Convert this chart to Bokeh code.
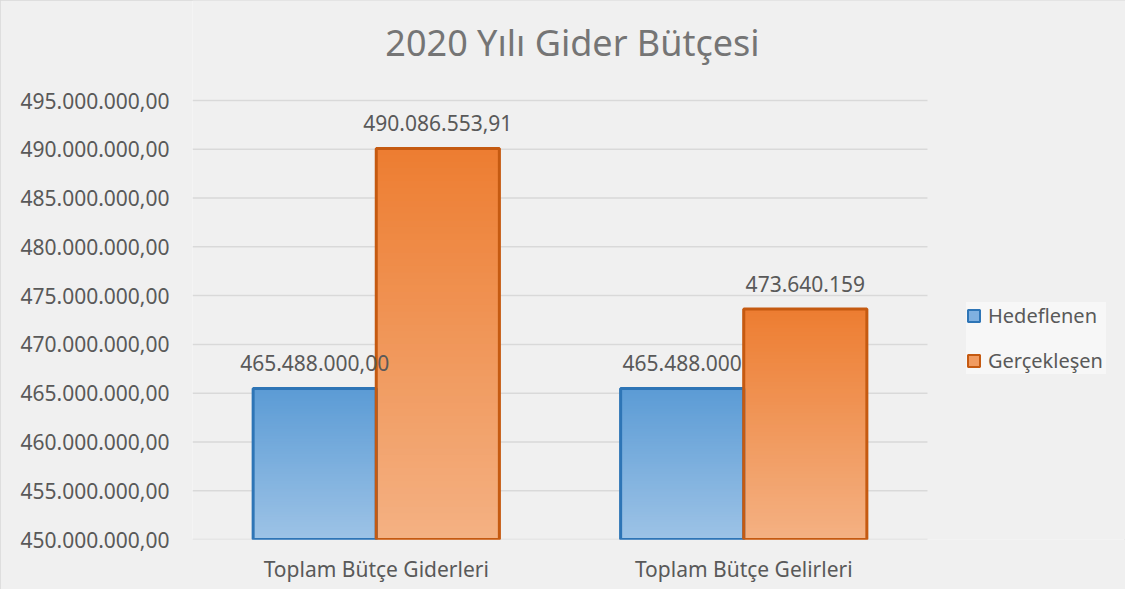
from bokeh.plotting import figure
from bokeh.models import FixedTicker, Legend, LegendItem, Label
from bokeh.embed import file_html
from bokeh.resources import INLINE
from bokeh.core.properties import value

# ---- data ----
categories = ["Toplam Bütçe Giderleri", "Toplam Bütçe Gelirleri"]
series_names = ["Hedeflenen", "Gerçekleşen"]
hedeflenen = [465488000.00, 465488000.00]
gerceklesen = [490086553.91, 473640159.00]
hedef_labels = ["465.488.000,00", "465.488.000"]
gercek_labels = ["490.086.553,91", "473.640.159"]
y_ticks = [450000000, 455000000, 460000000, 465000000, 470000000,
           475000000, 480000000, 485000000, 490000000, 495000000]
y_tick_labels = ["450.000.000,00", "455.000.000,00", "460.000.000,00", "465.000.000,00",
                 "470.000.000,00", "475.000.000,00", "480.000.000,00", "485.000.000,00",
                 "490.000.000,00", "495.000.000,00"]
title_text = "2020 Yılı Gider Bütçesi"

# ---- layout / style ----
FONT = "Noto Sans"
TXT = "#595959"
BG = "#f0f0f0"
W, H = 1125, 589
LEFT, TOP, BOTTOM = 192, 100, 50
PLOT_W = 735                      # width of the category area in px
PLOT_H = H - TOP - BOTTOM         # height of the value area in px
N = len(categories)
X_END = N * (W - LEFT) / PLOT_W   # frame extends under the legend
Y0, Y1 = y_ticks[0], y_ticks[-1]
Y_END = Y1 + TOP * (Y1 - Y0) / PLOT_H   # frame extends under the title
BAR_W = 0.335
OFF = BAR_W / 2

cat_pos = [i + 0.5 for i in range(N)]

p = figure(width=W, height=H, x_range=(0, X_END), y_range=(Y0, Y_END),
           output_backend="svg", toolbar_location=None,
           min_border_left=LEFT, min_border_right=0, min_border_top=0,
           min_border_bottom=BOTTOM,
           background_fill_color=BG, border_fill_color=BG, outline_line_color=None)
p.title.visible = False
p.styles = {"outline": "1px solid #d9d9d9", "outline-offset": "-1px"}

# gridlines only across the category area
p.segment(x0=0, x1=N, y0=y_ticks, y1=y_ticks, line_color="#d9d9d9", line_width=1.5)


def hex2rgb(h):
    h = h.lstrip("#")
    return tuple(int(h[i:i + 2], 16) for i in (0, 2, 4))


def mix(c1, c2, t):
    a, b = hex2rgb(c1), hex2rgb(c2)
    return "#%02x%02x%02x" % tuple(int(round(a[i] + (b[i] - a[i]) * t)) for i in range(3))


def gradient_bars(xs, tops, c_top, c_bot, n=60):
    gx, gb, gt, gc = [], [], [], []
    for x, top in zip(xs, tops):
        h = (top - Y0) / n
        for k in range(n):
            b = Y0 + h * k
            t = Y0 + h * (k + 1) + (h * 0.5 if k < n - 1 else 0)
            frac = 1 - (k + 0.5) / n  # 0 at top, 1 at bottom
            gx.append(x); gb.append(b); gt.append(t)
            gc.append(mix(c_top, c_bot, frac))
    p.vbar(x=gx, bottom=gb, top=gt, width=BAR_W, fill_color=gc, line_color=None)


blue_x = [c - OFF for c in cat_pos]
orange_x = [c + OFF for c in cat_pos]

# base bars (also used for the legend swatches)
rb = p.vbar(x=blue_x, bottom=Y0, top=hedeflenen, width=BAR_W,
            fill_color="#7fb0e0", line_color="#2e75b6", line_width=2)
ro = p.vbar(x=orange_x, bottom=Y0, top=gerceklesen, width=BAR_W,
            fill_color="#f19b60", line_color="#c55a11", line_width=2)

gradient_bars(blue_x, hedeflenen, "#5b9bd5", "#9dc3e6")
gradient_bars(orange_x, gerceklesen, "#ed7d31", "#f4b183")

p.vbar(x=blue_x, bottom=Y0, top=hedeflenen, width=BAR_W, fill_alpha=0,
       line_color="#2e75b6", line_width=3)
p.vbar(x=orange_x, bottom=Y0, top=gerceklesen, width=BAR_W, fill_alpha=0,
       line_color="#c55a11", line_width=3)

# data labels
p.text(x=blue_x, y=hedeflenen, text=hedef_labels, text_align="center",
       text_baseline="alphabetic", y_offset=-25, text_font=value(FONT),
       text_font_size="21px", text_color=TXT)
p.text(x=orange_x, y=gerceklesen, text=gercek_labels, text_align="center",
       text_baseline="alphabetic", y_offset=-25, text_font=value(FONT),
       text_font_size="21px", text_color=TXT)

# axes
p.yaxis.ticker = FixedTicker(ticks=y_ticks)
p.yaxis.major_label_overrides = {t: l for t, l in zip(y_ticks, y_tick_labels)}
p.xaxis.ticker = FixedTicker(ticks=cat_pos)
p.xaxis.major_label_overrides = {c: l for c, l in zip(cat_pos, categories)}
for ax in (p.xaxis, p.yaxis):
    ax.axis_line_color = None
    ax.major_tick_line_color = None
    ax.minor_tick_line_color = None
    ax.major_tick_out = 0
    ax.major_tick_in = 0
    ax.minor_tick_out = 0
    ax.minor_tick_in = 0
    ax.major_label_text_font = FONT
    ax.major_label_text_font_size = "21px"
    ax.major_label_text_color = TXT
p.yaxis.major_label_standoff = 23
p.xaxis.major_label_standoff = 15
p.xgrid.grid_line_color = None
p.ygrid.grid_line_color = None

# title (screen units measured from the frame's bottom-left corner)
p.add_layout(Label(x=380, y=PLOT_H + TOP - 42, x_units="screen", y_units="screen",
                   text=title_text, text_align="center", text_baseline="alphabetic",
                   text_font=FONT, text_font_size="36px", text_color="#757575"))

# legend
legend = Legend(items=[LegendItem(label=series_names[0], renderers=[rb]),
                       LegendItem(label=series_names[1], renderers=[ro])],
                location=(774, 165), label_text_font=FONT, label_text_font_size="20px",
                label_text_color=TXT, glyph_width=15, glyph_height=15, label_height=24,
                label_width=118, label_standoff=7, spacing=18, padding=19, margin=0,
                background_fill_color="#f7f7f7", border_line_color=None)
p.add_layout(legend)

open("out.html", "w").write(file_html(p, INLINE))
